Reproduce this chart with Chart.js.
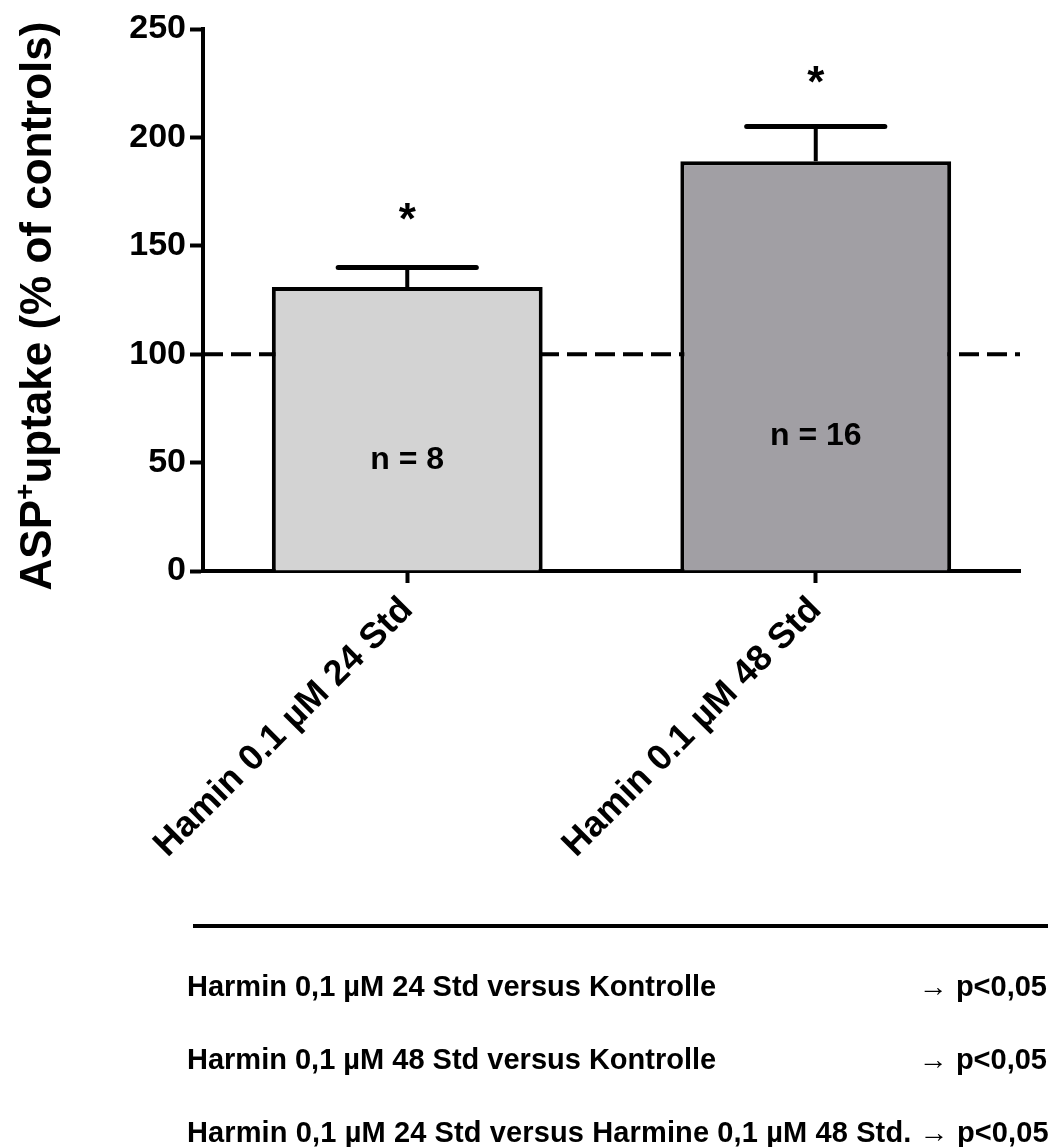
<!DOCTYPE html>
<html>
<head>
<meta charset="utf-8">
<script src="https://cdn.jsdelivr.net/npm/chart.js@4.4.1/dist/chart.umd.min.js"></script>
<style>
    body { margin: 0; background: #fff; }
    #wrap { position: relative; width: 1048px; height: 1147px; }
    #chart { position: absolute; left: 0; top: 0; }
    .rule { position: absolute; left: 193px; top: 924px; width: 855px; height: 4px; background: #000; }
    .note {
        position: absolute; left: 187px; right: 1px;
        font: bold 29px "Liberation Sans", Arial, sans-serif; line-height: 29px;
        color: #000; white-space: nowrap;
    }
    .note .p { position: absolute; right: 0; top: 0; }
</style>
</head>
<body>
<div id="wrap">
    <canvas id="chart" width="1048" height="1147"></canvas>
    <div class="rule"></div>
    <div class="note" style="top: 972px;">Harmin 0,1 µM 24 Std versus Kontrolle<span class="p">→ p&lt;0,05</span></div>
    <div class="note" style="top: 1045px;">Harmin 0,1 µM 48 Std versus Kontrolle<span class="p">→ p&lt;0,05</span></div>
    <div class="note" style="top: 1118px; letter-spacing: 0.12px;">Harmin 0,1 µM 24 Std versus Harmine 0,1 µM 48 Std. → p&lt;0,05</div>
</div>
<script>
// === DATA ===
const categories = ['Hamin 0.1 µM 24 Std', 'Hamin 0.1 µM 48 Std'];
const uptakeMeans = [131, 189];
const uptakeSem = [9, 16];
const sampleSizes = ['n = 8', 'n = 16'];
const sigMarks = ['*', '*'];
const controlLevel = 100;
const yTicks = [0, 50, 100, 150, 200, 250];

const FONT = '"Liberation Sans", Arial, sans-serif';

// dashed control line, behind the bars
const controlLinePlugin = {
    id: 'controlLine',
    beforeDatasetsDraw(chart) {
        const { ctx, chartArea, scales } = chart;
        const y = scales.y.getPixelForValue(controlLevel);
        ctx.save();
        ctx.strokeStyle = '#000';
        ctx.lineWidth = 4;
        ctx.setLineDash([20, 8]);
        ctx.beginPath();
        ctx.moveTo(chartArea.left, y);
        ctx.lineTo(chartArea.right, y);
        ctx.stroke();
        ctx.restore();
    }
};

// error bars, asterisks, n labels
const annotatePlugin = {
    id: 'annotate',
    afterDatasetsDraw(chart, args, opts) {
        const { ctx, scales } = chart;
        const meta = chart.getDatasetMeta(0);
        ctx.save();
        meta.data.forEach((bar, i) => {
            const x = bar.x;
            const yTop = scales.y.getPixelForValue(uptakeMeans[i]);
            const yErr = scales.y.getPixelForValue(uptakeMeans[i] + uptakeSem[i]);
            const capHalf = bar.width * 0.255;

            ctx.strokeStyle = '#000';
            ctx.lineWidth = 4;
            ctx.lineCap = 'butt';
            ctx.beginPath();
            ctx.moveTo(x, yTop);
            ctx.lineTo(x, yErr);
            ctx.stroke();

            ctx.lineWidth = 5;
            ctx.lineCap = 'round';
            ctx.beginPath();
            ctx.moveTo(x - capHalf, yErr);
            ctx.lineTo(x + capHalf, yErr);
            ctx.stroke();

            ctx.fillStyle = '#000';
            ctx.textAlign = 'center';
            ctx.textBaseline = 'alphabetic';

            ctx.font = `bold 44px ${FONT}`;
            let m = ctx.measureText(sigMarks[i]);
            let yc = scales.y.getPixelForValue(opts.starAt[i]);
            ctx.fillText(sigMarks[i], x, yc + (m.actualBoundingBoxAscent - m.actualBoundingBoxDescent) / 2);

            ctx.font = `bold 32px ${FONT}`;
            m = ctx.measureText(sampleSizes[i]);
            yc = scales.y.getPixelForValue(opts.nAt[i]);
            ctx.fillText(sampleSizes[i], x, yc + (m.actualBoundingBoxAscent - m.actualBoundingBoxDescent) / 2);
        });
        ctx.restore();
    },
    afterDraw(chart, args, opts) {
        // y axis title with superscript
        const { ctx } = chart;
        const big = `bold 44px ${FONT}`;
        const small = `bold 28px ${FONT}`;
        const parts = [['ASP', big, 0], ['+', small, -17], ['uptake (% of controls)', big, 0]];
        ctx.save();
        let total = 0;
        parts.forEach(p => { ctx.font = p[1]; total += ctx.measureText(p[0]).width; });
        ctx.translate(opts.titleX, opts.titleCenter);
        ctx.rotate(-Math.PI / 2);
        ctx.fillStyle = '#000';
        ctx.textBaseline = 'alphabetic';
        ctx.textAlign = 'left';
        let x = -total / 2;
        parts.forEach(p => {
            ctx.font = p[1];
            ctx.fillText(p[0], x, p[2]);
            x += ctx.measureText(p[0]).width;
        });
        ctx.restore();
    }
};

new Chart(document.getElementById('chart'), {
    type: 'bar',
    data: {
        labels: categories,
        datasets: [{
            data: uptakeMeans,
            backgroundColor: ['#d3d3d3', '#a19fa4'],
            borderColor: '#000',
            borderWidth: 4,
            borderSkipped: 'start',
            barPercentage: 0.663,
            categoryPercentage: 1
        }]
    },
    options: {
        responsive: false,
        animation: false,
        events: [],
        layout: { padding: { top: 29, right: 28, left: 0, bottom: 0 } },
        plugins: {
            legend: { display: false },
            tooltip: { enabled: false },
            annotate: { starAt: [166, 229], nAt: [52, 63], titleX: 51, titleCenter: 306 }
        },
        scales: {
            x: {
                afterFit: s => { s.height = 1147 - 571; },
                grid: { display: true, drawOnChartArea: false, offset: false, color: '#000', tickLength: 12, tickWidth: 4 },
                border: { color: '#000', width: 4 },
                ticks: {
                    color: '#000', padding: 6, maxRotation: 45, minRotation: 45,
                    font: { family: FONT, size: 36, weight: 'bold' }
                }
            },
            y: {
                min: 0, max: 250,
                afterFit: s => { s.width = 203; },
                afterBuildTicks: s => { s.ticks = yTicks.map(v => ({ value: v })); },
                grid: { display: true, drawOnChartArea: false, color: '#000', tickLength: 13, tickWidth: 4 },
                border: { color: '#000', width: 4 },
                ticks: {
                    color: '#000', padding: 4,
                    font: { family: FONT, size: 34, weight: 'bold' }
                }
            }
        }
    },
    plugins: [controlLinePlugin, annotatePlugin]
});
</script>
</body>
</html>
